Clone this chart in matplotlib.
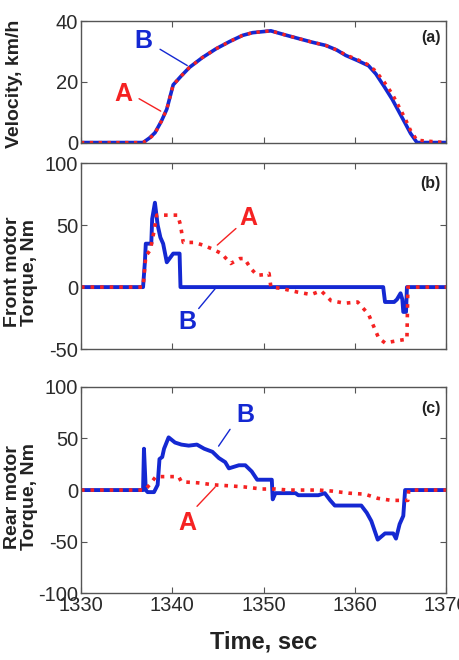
import numpy as np
import matplotlib
matplotlib.use('Agg')
import matplotlib.pyplot as plt

plt.rcParams['font.family'] = ['Liberation Sans', 'DejaVu Sans']
plt.rcParams['axes.unicode_minus'] = False

# (a) vehicle velocity, km/h
t_vel = [1330, 1336.8, 1337.5, 1338.1, 1338.8, 1339.4, 1340.1, 1341.0, 1341.9, 1343.3,
         1344.8, 1346.3, 1347.7, 1348.8, 1350.8, 1352.3, 1353.9, 1355.4, 1356.8, 1358.0,
         1359.0, 1360.3, 1361.5, 1362.3, 1363.2, 1364.1, 1364.8, 1365.5, 1366.1, 1366.8, 1370]
vel_b = [0, 0, 1.5, 3.2, 7, 11, 19, 22, 24.8, 28, 30.9, 33.3, 35.3, 36.2, 36.8, 35.5,
         34.2, 33.0, 32.0, 30.5, 28.7, 27.0, 25.3, 22.6, 18.5, 14.2, 10.3, 6.4, 3.0, 0, 0]
vel_a = [0, 0, 1.3, 3.0, 7, 11, 19, 22, 24.8, 28, 30.9, 33.3, 35.3, 36.2, 36.8, 35.5,
         34.2, 33.0, 32.0, 30.5, 28.9, 27.3, 25.6, 23.5, 20.0, 16.0, 12.0, 8.0, 4.0, 0.8, 0]

# (b) front motor torque, Nm
t_front_b = [1330, 1336.8, 1337.0, 1337.1, 1337.7, 1337.8, 1338.1, 1338.4, 1338.7, 1339.0,
             1339.4, 1339.6, 1340.1, 1340.8, 1340.9, 1363.1, 1363.3, 1364.3, 1364.6, 1365.0,
             1365.2, 1365.3, 1365.6, 1365.7, 1370]
front_b = [0, 0, 20, 35, 35, 55, 68, 50, 40, 35, 20, 22, 27, 27, 0, 0, -12, -12, -10, -5,
           -10, -20, -20, 0, 0]
t_front_a = [1330, 1336.8, 1337.1, 1337.6, 1338.0, 1338.3, 1338.7, 1340.6, 1340.9, 1341.2,
             1342.4, 1343.3, 1344.3, 1345.4, 1346.4, 1347.4, 1347.9, 1348.6, 1349.3, 1350.0,
             1350.6, 1350.8, 1351.9, 1353.7, 1355.2, 1356.3, 1357.4, 1358.9, 1360.3, 1361.5,
             1362.6, 1363.3, 1364.8, 1365.7, 1365.8, 1370]
front_a = [0, 0, 25, 30, 45, 58, 58, 58, 50, 36, 36, 34, 31, 27, 19, 23, 23, 15, 9.5, 10,
           11, 0, -1, -4, -6, -3, -11, -13, -12, -22, -41, -45, -43, -42, 0, 0]

# (c) rear motor torque, Nm
t_rear_b = [1330, 1336.8, 1336.9, 1337.1, 1337.3, 1338.0, 1338.4, 1338.6, 1338.9, 1339.1,
            1339.6, 1340.3, 1341.0, 1341.8, 1342.7, 1343.5, 1344.4, 1345.1, 1345.8, 1346.2,
            1347.3, 1348.0, 1348.7, 1349.3, 1350.9, 1351.0, 1351.3, 1353.5, 1353.8, 1356.0,
            1356.7, 1357.3, 1357.8, 1360.7, 1361.3, 1361.8, 1362.5, 1363.3, 1364.2, 1364.5,
            1364.9, 1365.3, 1365.5, 1370]
rear_b = [0, 0, 40, 0, -2, -2, 5, 30, 32, 40, 51, 46, 44, 43, 44, 40, 37, 31, 27, 21,
          24, 24, 18, 10, 10, -9, -3, -3, -5, -5, -3, -10, -15, -15, -22, -30, -48, -42, -42, -47,
          -33, -25, 0, 0]
t_rear_a = [1330, 1337.0, 1337.5, 1338.2, 1340.7, 1341.0, 1342.8, 1344.6, 1346.4, 1347.9,
            1349.8, 1351.3, 1352.7, 1356.0, 1357.5, 1359.3, 1361.1, 1362.5, 1364.0, 1365.8,
            1365.9, 1370]
rear_a = [0, 0, 5, 13, 13, 8, 7, 5, 4, 3, 1, 1, 0, 0, -1, -3, -4, -8, -10, -10, 0, 0]

xticks = [1330, 1340, 1350, 1360, 1370]

BLUE = '#1428d2'
RED = '#f52222'
GRID = '#555555'

fig = plt.figure(figsize=(4.6, 6.6), dpi=100)
ax_a = fig.add_axes([0.176, 0.784, 0.794, 0.184])
ax_b = fig.add_axes([0.176, 0.471, 0.794, 0.282])
ax_c = fig.add_axes([0.176, 0.101, 0.794, 0.313])


def style(ax, ylim, yticks, label):
    ax.set_xlim(1330, 1370)
    ax.set_ylim(*ylim)
    ax.set_xticks(xticks)
    ax.set_yticks(yticks)
    ax.tick_params(direction='in', top=True, right=True, length=4, width=0.8,
                   color=GRID, labelsize=14.5, labelcolor='#2a2a2a', pad=2)
    for s in ax.spines.values():
        s.set_color(GRID)
        s.set_linewidth(1.0)
    ax.text(0.985, 0.93, label, transform=ax.transAxes, ha='right', va='top',
            fontsize=11.5, fontweight='bold', color='#222222')


def leader(ax, letter, color, text_xy, p0, p1):
    ax.text(*text_xy, letter, color=color, fontsize=18, fontweight='bold',
            ha='center', va='center')
    ax.annotate('', xy=p1, xytext=p0,
                arrowprops=dict(arrowstyle='-', color=color, lw=1.0))


# (a)
ax_a.plot(t_vel, vel_b, color=BLUE, lw=2.6, solid_joinstyle='miter')
ax_a.plot(t_vel, vel_a, color=RED, lw=2.4, ls=':')
style(ax_a, (0, 40), [0, 20, 40], '(a)')
ax_a.set_xticklabels([])
leader(ax_a, 'B', BLUE, (1336.8, 33.6), (1338.4, 31.2), (1341.9, 24.9))
leader(ax_a, 'A', RED, (1334.6, 15.9), (1336.1, 14.9), (1339.0, 9.9))

# (b)
ax_b.plot(t_front_b, front_b, color=BLUE, lw=2.8)
ax_b.plot(t_front_a, front_a, color=RED, lw=2.6, ls=':')
style(ax_b, (-50, 100), [-50, 0, 50, 100], '(b)')
ax_b.set_xticklabels([])
leader(ax_b, 'B', BLUE, (1341.7, -28.4), (1342.7, -19), (1345.0, 1.4))
leader(ax_b, 'A', RED, (1348.3, 55.7), (1347.2, 48.7), (1344.7, 32.4))

# (c)
ax_c.plot(t_rear_b, rear_b, color=BLUE, lw=2.8)
ax_c.plot(t_rear_a, rear_a, color=RED, lw=2.6, ls=':')
style(ax_c, (-100, 100), [-100, -50, 0, 50, 100], '(c)')
leader(ax_c, 'B', BLUE, (1348.0, 72.6), (1346.5, 61), (1344.9, 40.3))
leader(ax_c, 'A', RED, (1341.6, -32), (1342.5, -17.7), (1344.9, 4.8))

lab = dict(rotation=90, ha='center', va='center', fontsize=14, fontweight='bold',
           color='#222222', multialignment='center', linespacing=1.0)
fig.text(15 / 460, 1 - 84 / 660, 'Velocity, km/h', **lab)
fig.text(21 / 460, 1 - 272 / 660, 'Front motor\nTorque, Nm', **lab)
fig.text(21 / 460, 1 - 497 / 660, 'Rear motor\nTorque, Nm', **lab)
fig.text(264 / 460, 1 - 642 / 660, 'Time, sec', ha='center', va='center',
         fontsize=17, fontweight='bold', color='#222222')

fig.savefig('out.png', dpi=100)
